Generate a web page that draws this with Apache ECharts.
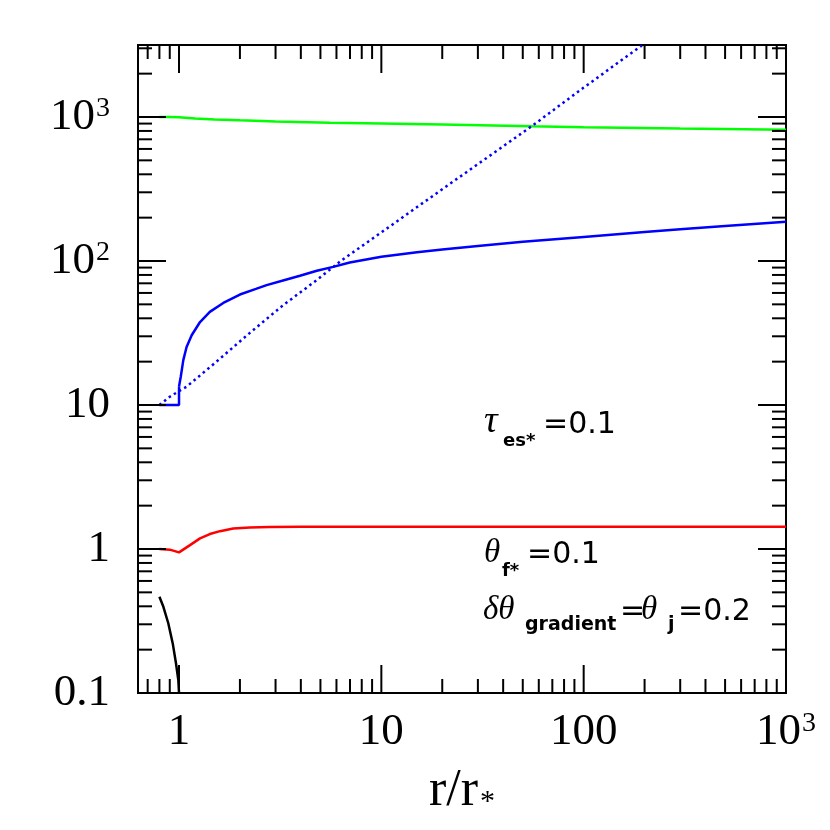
<!DOCTYPE html>
<html>
<head>
<meta charset="utf-8">
<script src="https://cdn.jsdelivr.net/npm/echarts@6/dist/echarts.min.js"></script>
<style>html,body{margin:0;padding:0;background:#fff}#c{width:830px;height:830px}</style>
</head>
<body>
<div id="c"></div>
<script>
// ---- data ----
const greenX = [0.8, 0.9, 1.0, 1.2, 1.5, 2, 3, 5.57, 10, 20, 55, 100, 300, 1000];
const greenY = [1000, 1000, 995, 978, 962, 948, 932, 913, 902, 888, 861, 850, 832, 816];

// blue solid: flat part with the jump at r = r*, then the rising curve
const blueStepX = [0.8, 1.0, 1.0, 1.0005];
const blueStepY = [10, 10, 12, 13.5];
const blueX = [1.0005, 1.02, 1.05, 1.09, 1.155, 1.27, 1.42, 1.655, 2.0, 2.4, 2.71, 3.3, 3.96, 4.8, 5.78, 6.98, 10, 15, 20, 30, 50, 100, 200, 300, 500, 1000];
const blueY = [13.5, 15.7, 20.5, 25.3, 30.5, 37.7, 44.3, 51.1, 58.5, 64, 68, 73.5, 79, 85.5, 91, 97.5, 107, 115, 120, 127, 136, 147, 159, 166, 175, 187];

const dotX = [0.8, 0.9, 1.0, 1.09, 1.5, 2.24, 3.27, 4.78, 6.36, 10, 20, 55.2, 100, 194];
const dotY = [10, 11.4, 12.5, 13.4, 19.5, 31.7, 49.3, 73.5, 101, 158, 315, 861, 1600, 3140];

const redX = [0.8, 0.9, 1.0, 1.133, 1.27, 1.42, 1.594, 1.853, 2.24, 2.81, 4, 10, 100, 1000];
const redY = [1.0, 0.99, 0.947, 1.064, 1.185, 1.27, 1.33, 1.39, 1.41, 1.42, 1.425, 1.425, 1.425, 1.425];

const blackX = [0.8, 0.837, 0.885, 0.931, 0.966, 0.992, 1.0];
const blackY = [0.466, 0.397, 0.305, 0.221, 0.161, 0.123, 0.1];

const xMajor = [1, 10, 100, 1000];
const xMinor = [0.7, 0.8, 0.9, 2, 3, 4, 5, 6, 7, 8, 9, 20, 30, 40, 50, 60, 70, 80, 90, 200, 300, 400, 500, 600, 700, 800, 900];
const yMajor = [0.1, 1, 10, 100, 1000];
const yMinor = [0.2, 0.3, 0.4, 0.5, 0.6, 0.7, 0.8, 0.9, 2, 3, 4, 5, 6, 7, 8, 9, 20, 30, 40, 50, 60, 70, 80, 90, 200, 300, 400, 500, 600, 700, 800, 900, 2000, 3000];

const xLabels = {'0': '1', '1': '10', '2': '100', '3': '{b|10}{s|3}'};
const yLabels = {'-1': '0.1', '0': '1', '1': '10', '2': '{b|10}{s|2}', '3': '{b|10}{s|3}'};

const xMin = 0.627, xMax = 1000, yMin = 0.1, yMax = 3162;

// ---- chart ----
const zip = (a, b) => a.map((v, i) => [v, b[i]]);
const MAJ = 28, MIN = 14;

function decadeKey(v) {
  const k = Math.log10(v);
  if (Math.abs(k - Math.round(k)) > 1e-6) return null;
  return String(Math.round(k));
}

const chart = echarts.init(document.getElementById('c'), null, {renderer: 'canvas'});

const xTickData = xMajor.map(v => [v, 1, MAJ]).concat(xMinor.map(v => [v, 1, MIN]));
const yTickData = yMajor.map(v => [1, v, MAJ]).concat(yMinor.map(v => [1, v, MIN]));

function lineShape(x1, y1, x2, y2) {
  return {type: 'line', shape: {x1, y1, x2, y2}, style: {stroke: '#000', lineWidth: 2}};
}

const supRich = {
  b: {fontFamily: 'Liberation Serif', fontSize: 45, color: '#000'},
  s: {fontFamily: 'Liberation Serif', fontSize: 28, color: '#000', verticalAlign: 'top', padding: [0, 0, 0, 1]}
};

function T(x, baseline, text, font, size) {
  return {
    type: 'text', silent: true,
    style: {x: x, y: baseline - 0.34 * size, text: text, font: font.replace('SIZE', size + 'px'),
            fill: '#000', verticalAlign: 'middle', align: 'left'}
  };
}
const GREEK = "italic SIZE 'Liberation Serif'";
const SUB = "bold SIZE 'DejaVu Sans'";
const NUM = "SIZE 'DejaVu Sans'";

const option = {
  animation: false,
  backgroundColor: '#fff',
  grid: {left: 138, right: 44, top: 45, bottom: 137, show: true, borderColor: '#000', borderWidth: 2, backgroundColor: 'transparent'},
  xAxis: {
    type: 'log', logBase: 10, min: xMin, max: xMax,
    axisLine: {show: false}, axisTick: {show: false}, splitLine: {show: false},
    axisLabel: {
      margin: 17, color: '#000', fontFamily: 'Liberation Serif', fontSize: 45,
      showMinLabel: true, showMaxLabel: true,
      formatter: v => { const k = decadeKey(v); return k !== null && xLabels[k] ? xLabels[k] : ''; },
      rich: supRich
    },
    name: '{n|r/r}{sub|*}', nameLocation: 'middle', nameGap: 72,
    nameTextStyle: {
      rich: {
        n: {fontFamily: 'Liberation Serif', fontSize: 52, color: '#000'},
        sub: {fontFamily: 'Liberation Serif', fontSize: 30, color: '#000', verticalAlign: 'bottom', padding: [0, 0, 0, 2]}
      }
    }
  },
  yAxis: {
    type: 'log', logBase: 10, min: yMin, max: yMax,
    axisLine: {show: false}, axisTick: {show: false}, splitLine: {show: false},
    axisLabel: {
      margin: 28, color: '#000', fontFamily: 'Liberation Serif', fontSize: 45,
      showMinLabel: true, showMaxLabel: true,
      formatter: v => { const k = decadeKey(v); return k !== null && yLabels[k] ? yLabels[k] : ''; },
      rich: supRich
    }
  },
  graphic: [
    T(484, 435, 'τ', GREEK, 38),
    T(503, 447, 'es*', SUB, 18),
    T(543, 435, '=0.1', NUM, 30),

    T(484, 565, 'θ', GREEK, 33),
    T(502, 577, 'f*', SUB, 18),
    T(527, 565, '=0.1', NUM, 30),

    T(483, 622, 'δθ', GREEK, 33),
    T(525, 632, 'gradient', SUB, 19),
    T(620, 622, '=', NUM, 30),
    T(641, 622, 'θ', GREEK, 33),
    T(668, 632, 'j', SUB, 19),
    T(678, 622, '=0.2', NUM, 30)
  ],
  series: [
    {type: 'line', data: zip(greenX, greenY), symbol: 'none', lineStyle: {color: '#00ff00', width: 2.5}, z: 3},
    {type: 'line', data: zip(blueStepX, blueStepY), symbol: 'none', lineStyle: {color: '#0000ff', width: 2.5}, z: 3},
    {type: 'line', data: zip(blueX, blueY), symbol: 'none', lineStyle: {color: '#0000ff', width: 2.5}, z: 3},
    {type: 'line', data: zip(dotX, dotY), symbol: 'none', lineStyle: {color: '#0000ff', width: 2.5, type: [2.5, 3.5]}, z: 3},
    {type: 'line', data: zip(redX, redY), symbol: 'none', lineStyle: {color: '#ff0000', width: 2.5}, z: 3},
    {type: 'line', data: zip(blackX, blackY), symbol: 'none', lineStyle: {color: '#000000', width: 2.5}, z: 3},
    {
      type: 'custom', data: xTickData, encode: {x: 0, y: 1}, silent: true, z: 4,
      renderItem: (params, api) => {
        const v = api.value(0), len = api.value(2);
        const b = api.coord([v, yMin]), t = api.coord([v, yMax]);
        return {type: 'group', children: [lineShape(b[0], b[1], b[0], b[1] - len), lineShape(t[0], t[1], t[0], t[1] + len)]};
      }
    },
    {
      type: 'custom', data: yTickData, encode: {x: 0, y: 1}, silent: true, z: 4,
      renderItem: (params, api) => {
        const v = api.value(1), len = api.value(2);
        const l = api.coord([xMin, v]), r = api.coord([xMax, v]);
        return {type: 'group', children: [lineShape(l[0], l[1], l[0] + len, l[1]), lineShape(r[0], r[1], r[0] - len, r[1])]};
      }
    }
  ]
};
chart.setOption(option);
</script>
</body>
</html>
